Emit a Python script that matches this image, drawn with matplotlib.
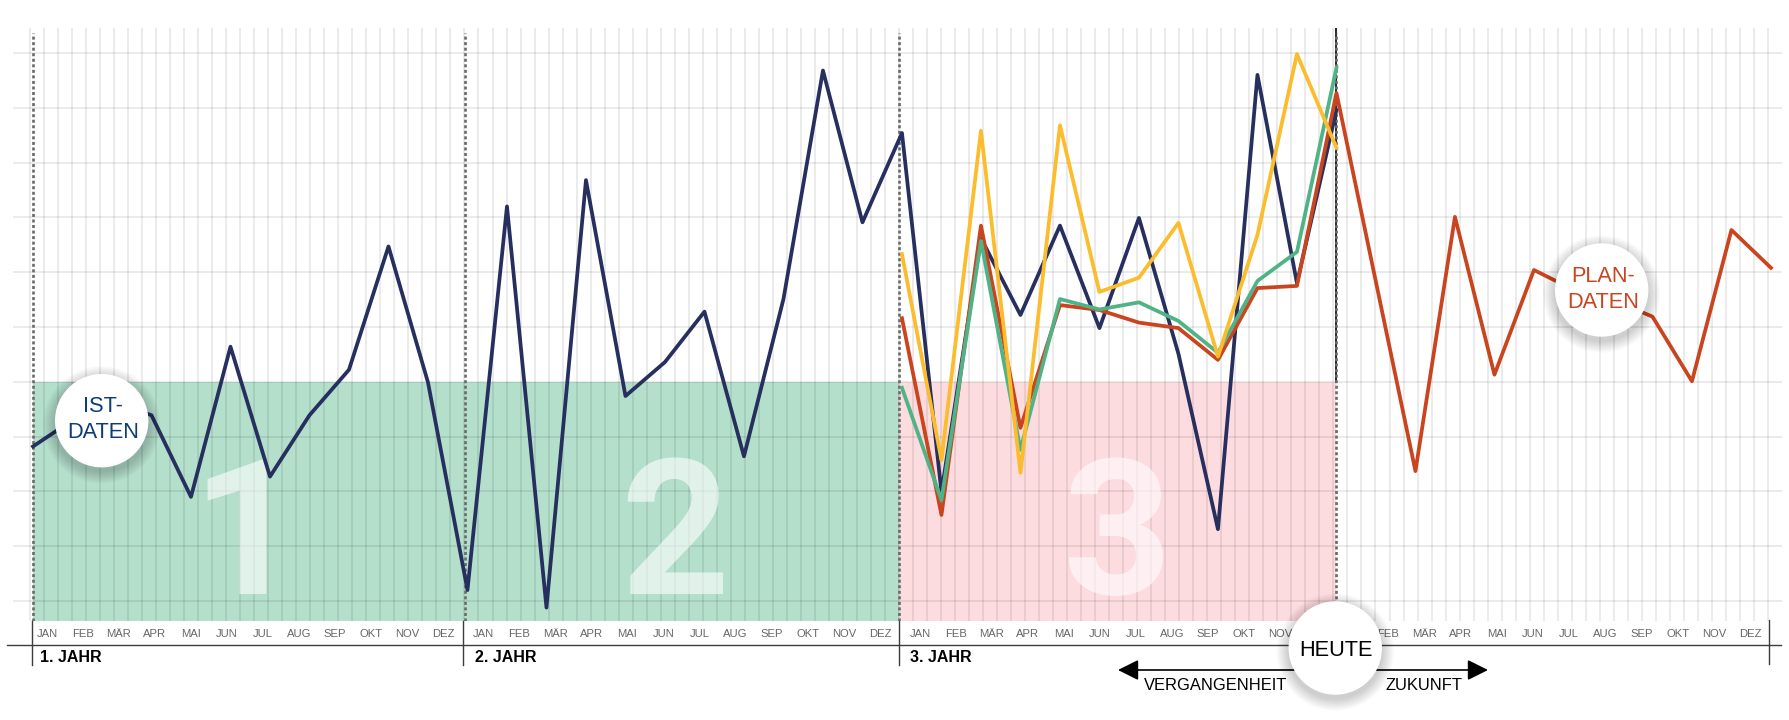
import matplotlib.pyplot as plt
import numpy as np
from matplotlib.patches import Circle

plt.rcParams["font.family"] = ["Liberation Sans", "DejaVu Sans"]

months = ["JAN", "FEB", "MÄR", "APR", "MAI", "JUN", "JUL", "AUG", "SEP", "OKT", "NOV", "DEZ"]
year_labels = ["1. JAHR", "2. JAHR", "3. JAHR"]

# values, one point per step on the x axis
ist_values = [
    28.2, 33.0, 36.3, 33.9, 19.0, 46.4, 22.7, 33.9, 42.2, 64.7, 39.9, 2.0,
    72.0, -1.2, 76.8, 37.4, 43.6, 52.8, 26.4, 55.1, 96.8, 69.1, 85.4,
    19.9, 66.2, 52.2, 68.5, 49.8, 69.9, 45.1, 13.1, 96.0, 58.0, 89.6,
]
yellow_values = [63.3, 25.7, 85.8, 23.4, 86.8, 56.4, 59.0, 69.0, 44.6, 66.8, 99.8, 82.7]
green_values = [38.9, 18.4, 65.7, 27.6, 55.1, 53.2, 54.5, 51.1, 45.3, 58.4, 63.7, 97.3]
plan_values = [
    51.6, 15.7, 68.5, 31.6, 54.0, 53.1, 50.8, 49.8, 44.0, 57.1, 57.5, 92.7,
    58.2, 23.7, 70.1, 41.3, 60.4, 56.8, 54.9, 51.9, 40.1, 67.7, 60.8,
]

NAVY = "#272f5f"
RED = "#c9451f"
GREEN = "#4fb386"
YELLOW = "#fbbc2d"

fig = plt.figure(figsize=(17.9, 7.2), dpi=100)

# chart area, x is the point index, y runs 0 to 100 over the horizontal grid
ax = fig.add_axes([13 / 1790, 1 - 621 / 720, (1782 - 13) / 1790, (621 - 28) / 720])
ax.set_xlim(-0.506, 44.28)
ax.set_ylim(-3.65, 104.56)
ax.axis("off")

# overlay in picture pixels for the labels and bubbles
over = fig.add_axes([0, 0, 1, 1], zorder=5)
over.set_xlim(0, 1790)
over.set_ylim(720, 0)
over.axis("off")

# grid, see-through so it also shows on the coloured phases
step = 14.016 / 39.5
grid_color = (0, 0, 0, 0.1)
ax.vlines((30 - 33) / 39.5 + step * np.arange(125), -3.65, 104.56, color=grid_color, lw=1.1, zorder=0.5)
ax.hlines(np.arange(0, 101, 10), -0.506, 44.28, color=grid_color, lw=1.1, zorder=0.5)

# phases
ax.axvspan(0, 21.93, ymax=(40 + 3.65) / 108.21, color="#b3dfcb", lw=0, zorder=0.2)
ax.axvspan(21.93, 33, ymax=(40 + 3.65) / 108.21, color="#fddcdf", lw=0, zorder=0.2)
for x, digit in zip([246, 675, 1118], ["1", "2", "3"]):
    ax.text(x, 594, digit, transform=over.transData, fontsize=137, fontweight="bold",
            family="Roboto", color="white", alpha=0.6, ha="center", va="baseline", zorder=1)

# today line and year separators
ax.plot([33, 33], [40, 104.56], color="black", lw=1.2, zorder=1.2)
ax.vlines([0, 10.94, 21.93, 33.0], -3.65, 103.6, color="#6a6a6a", lw=1.9,
          linestyles=[(0, (1.15, 0.95))], zorder=1.3)

ax.plot(np.arange(len(ist_values)), ist_values, color=NAVY, lw=2.7, zorder=2)
ax.plot(22 + np.arange(len(plan_values)), plan_values, color=RED, lw=2.7, zorder=2.1)
ax.plot(22 + np.arange(len(green_values)), green_values, color=GREEN, lw=2.7, zorder=2.2)
ax.plot(22 + np.arange(len(yellow_values)), yellow_values, color=YELLOW, lw=2.7, zorder=2.3)

# month labels under the chart
for start, gap in [(47, 36), (483, 36.1), (920, 36), (1352, 36.2)]:
    for i, month in enumerate(months):
        over.text(start + gap * i, 634, month, fontsize=8.1, color="#666666",
                  ha="center", va="center", zorder=2)

over.plot([7, 1781], [645.3, 645.3], color="#3c3c3c", lw=1.0, zorder=1)
for x in [32, 463.5, 898.6]:
    over.plot([x, x], [621, 665], color="#3c3c3c", lw=1.0, zorder=1)
over.plot([1769, 1769], [620, 664], color="#3c3c3c", lw=1.0, zorder=1)

for x, label in zip([40, 475, 909.6], year_labels):
    over.text(x, 658, label, fontsize=11.5, fontweight="bold", color="black",
              ha="left", va="center", zorder=2)

# past / future arrow
over.annotate("", xy=(1118, 670), xytext=(1488, 670), zorder=2,
              arrowprops=dict(arrowstyle="<|-|>,head_length=0.9,head_width=0.45",
                              color="black", lw=1.2, mutation_scale=14,
                              shrinkA=0, shrinkB=0))
over.text(1216, 685, "VERGANGENHEIT", fontsize=11.9, color="black", ha="center", va="center", zorder=2)
over.text(1424, 685, "ZUKUNFT", fontsize=11.9, color="black", ha="center", va="center", zorder=2)


def bubble(cx, cy, lines, color):
    # soft shadow made of stacked circles
    for grow in range(12, 0, -1):
        over.add_patch(Circle((cx, cy + 4), 46.7 + grow, color="black", alpha=0.014, lw=0, zorder=4))
    over.add_patch(Circle((cx, cy), 46.7, color="white", lw=0, zorder=4.5))
    for text, y in lines:
        over.text(cx + 1, y, text, fontsize=15.7, color=color, ha="center", va="center", zorder=5)


bubble(101.7, 420.7, [("IST-", 407), ("DATEN", 432)], "#0b3d78")
bubble(1601.7, 290, [("PLAN-", 277), ("DATEN", 302)], RED)
bubble(1335.3, 648, [("HEUTE", 650)], "black")

fig.savefig("out.png", dpi=100)
